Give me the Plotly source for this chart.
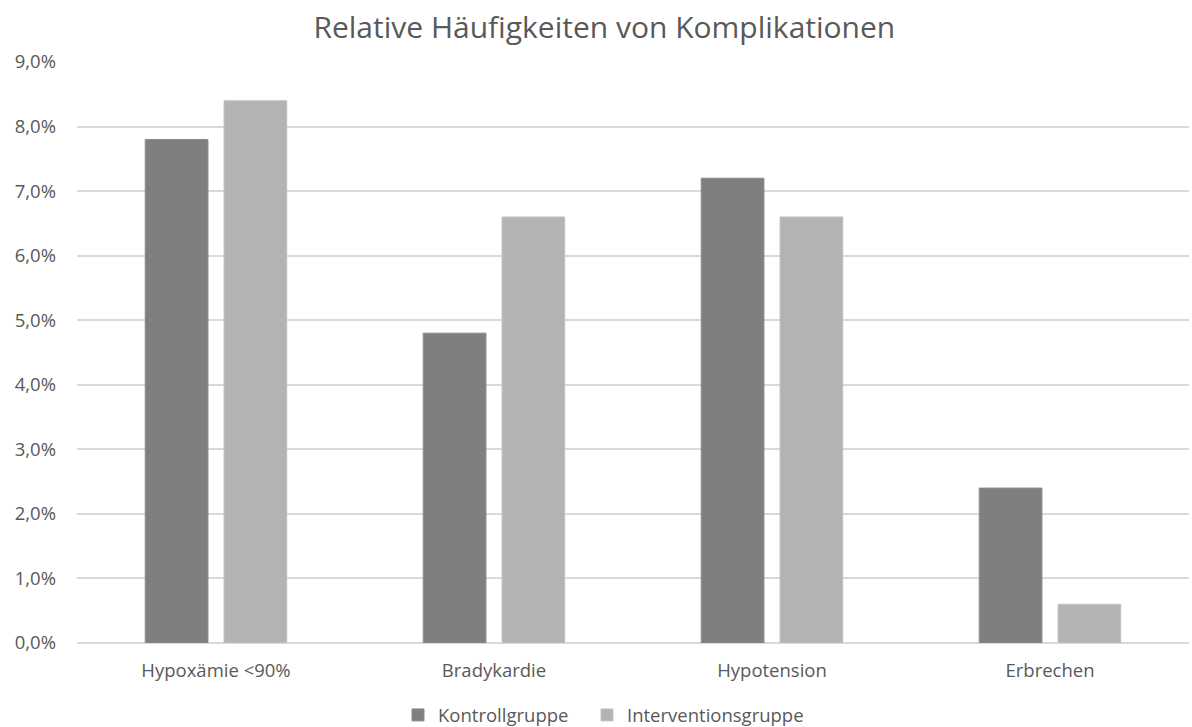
import plotly.graph_objects as go

categories = ["Hypoxämie <90%", "Bradykardie", "Hypotension", "Erbrechen"]
kontrollgruppe = [0.078, 0.048, 0.072, 0.024]
interventionsgruppe = [0.084, 0.066, 0.066, 0.006]
y_ticks = [i / 100 for i in range(0, 10)]

FONT = "Open Sans, Lato, sans-serif"
TEXT = "#595959"

fig = go.Figure()
fig.add_trace(go.Bar(
    name="Kontrollgruppe", x=categories, y=kontrollgruppe,
    marker=dict(color="#7f7f7f", line=dict(color="#8c8c8c", width=1)),
    legend="legend",
))
fig.add_trace(go.Bar(
    name="Interventionsgruppe", x=categories, y=interventionsgruppe,
    marker=dict(color="#b3b3b3", line=dict(color="#c4c4c4", width=1)),
    legend="legend2",
))

legend_style = dict(orientation="h", xref="container", yref="container",
                    xanchor="left", yanchor="middle", y=0.016,
                    font=dict(size=18.5, color=TEXT), itemwidth=30,
                    bgcolor="rgba(0,0,0,0)")

fig.update_layout(
    width=1192, height=727,
    margin=dict(l=77, r=3, t=62, b=84),
    paper_bgcolor="white", plot_bgcolor="white",
    separators=",.",
    barmode="group", bargap=0.433, bargroupgap=0.204,
    title=dict(text="Relative Häufigkeiten von Komplikationen",
               x=0.507, xanchor="center", y=0.962, yanchor="middle",
               font=dict(family=FONT, size=30, color=TEXT)),
    font=dict(family=FONT, size=18, color=TEXT),
    xaxis=dict(showgrid=False, showline=False, ticks="",
               ticklabelstandoff=14,
               tickfont=dict(size=18.5, color=TEXT)),
    yaxis=dict(range=[0, 0.09], tickvals=y_ticks, tickformat=".1%",
               showgrid=True, gridcolor="#d9d9d9", gridwidth=2,
               zeroline=True, zerolinecolor="#d9d9d9", zerolinewidth=2,
               showline=False, ticks="", ticklabelstandoff=20,
               tickfont=dict(size=18.5, color=TEXT)),
    legend=dict(legend_style, x=398 / 1192),
    legend2=dict(legend_style, x=587 / 1192),
    showlegend=True,
)

fig.write_html("out.html")
